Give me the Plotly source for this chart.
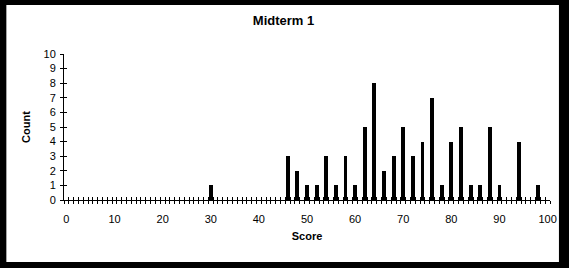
import plotly.graph_objects as go

# Data
scores = [30, 46, 48, 50, 52, 54, 56, 58, 60, 62, 64, 66, 68, 70, 72, 74, 76,
          78, 80, 82, 84, 86, 88, 90, 94, 98]
counts = [1, 3, 2, 1, 1, 3, 1, 3, 1, 5, 8, 2, 3, 5, 3, 4, 7,
          1, 4, 5, 1, 1, 5, 1, 4, 1]
x_tick_values = [0, 10, 20, 30, 40, 50, 60, 70, 80, 90, 100]
x_tick_labels = ["0", "10", "20", "30", "40", "50", "60", "70", "80", "90", "100"]
y_tick_values = [0, 1, 2, 3, 4, 5, 6, 7, 8, 9, 10]

# category boundaries (Excel style ticks between categories 0..100)
boundaries = [i - 0.5 for i in range(0, 102)]

FONT = "Liberation Sans, Arial, sans-serif"

fig = go.Figure()
fig.add_trace(go.Bar(x=scores, y=counts, width=0.8,
                     marker=dict(color="black", line=dict(width=0)),
                     xaxis="x", yaxis="y", showlegend=False))
# helper trace so the overlay axes (inside half of the crossing ticks) are drawn
fig.add_trace(go.Scatter(x=[None], y=[None], xaxis="x2", yaxis="y2",
                         showlegend=False, hoverinfo="skip"))

W, H = 569, 268
L, R, T, B = 64, 16, 54, 68
pw, ph = W - L - R, H - T - B

fig.add_shape(type="rect", xref="paper", yref="paper",
              x0=(6 - L) / pw, x1=(562 - L) / pw,
              y0=(H - B - 262) / ph, y1=(H - B - 5) / ph,
              fillcolor="white", line=dict(width=0), layer="below")

fig.update_layout(
    width=W, height=H,
    margin=dict(l=L, r=R, t=T, b=B, pad=0),
    paper_bgcolor="black",
    plot_bgcolor="rgba(0,0,0,0)",
    font=dict(family=FONT, size=11, color="black"),
    title=dict(text="<b>Midterm 1</b>", font=dict(size=13, family=FONT, color="black"),
               x=283.5 / W, xref="container", xanchor="center",
               y=1 - 20 / H, yref="container", yanchor="middle"),
    bargap=0,
    xaxis=dict(range=[-0.5, 100.5], tickmode="array", tickvals=x_tick_values,
               ticktext=x_tick_labels, ticks="", showgrid=False, zeroline=False,
               showline=True, linecolor="black", linewidth=1,
               tickfont=dict(size=11, family=FONT, color="black"),
               ticklabelstandoff=9,
               minor=dict(tickmode="array", tickvals=boundaries, ticks="outside",
                          ticklen=3, tickcolor="black", tickwidth=1, showgrid=False),
               title=dict(text="<b>Score</b>", font=dict(size=11, family=FONT, color="black"),
                          standoff=8),
               fixedrange=True),
    yaxis=dict(range=[0, 10], tickmode="array", tickvals=y_tick_values,
               ticks="outside", ticklen=3, tickcolor="black", tickwidth=1,
               showgrid=False, zeroline=False, showline=True, linecolor="black",
               linewidth=1, tickfont=dict(size=11, family=FONT, color="black"),
               ticklabelstandoff=2,
               title=dict(text="<b>Count</b>", font=dict(size=11, family=FONT, color="black"),
                          standoff=10),
               fixedrange=True),
    xaxis2=dict(range=[-0.5, 100.5], overlaying="x", anchor="y2", side="bottom",
                tickmode="array", tickvals=boundaries, ticks="inside", ticklen=3,
                tickcolor="black", tickwidth=1, showticklabels=False,
                showgrid=False, zeroline=False, showline=False, fixedrange=True),
    yaxis2=dict(range=[0, 10], overlaying="y", anchor="x2", side="left",
                tickmode="array", tickvals=y_tick_values, ticks="inside", ticklen=3,
                tickcolor="black", tickwidth=1, showticklabels=False,
                showgrid=False, zeroline=False, showline=False, fixedrange=True),
)

fig.write_html("out.html", config={"displayModeBar": False})
